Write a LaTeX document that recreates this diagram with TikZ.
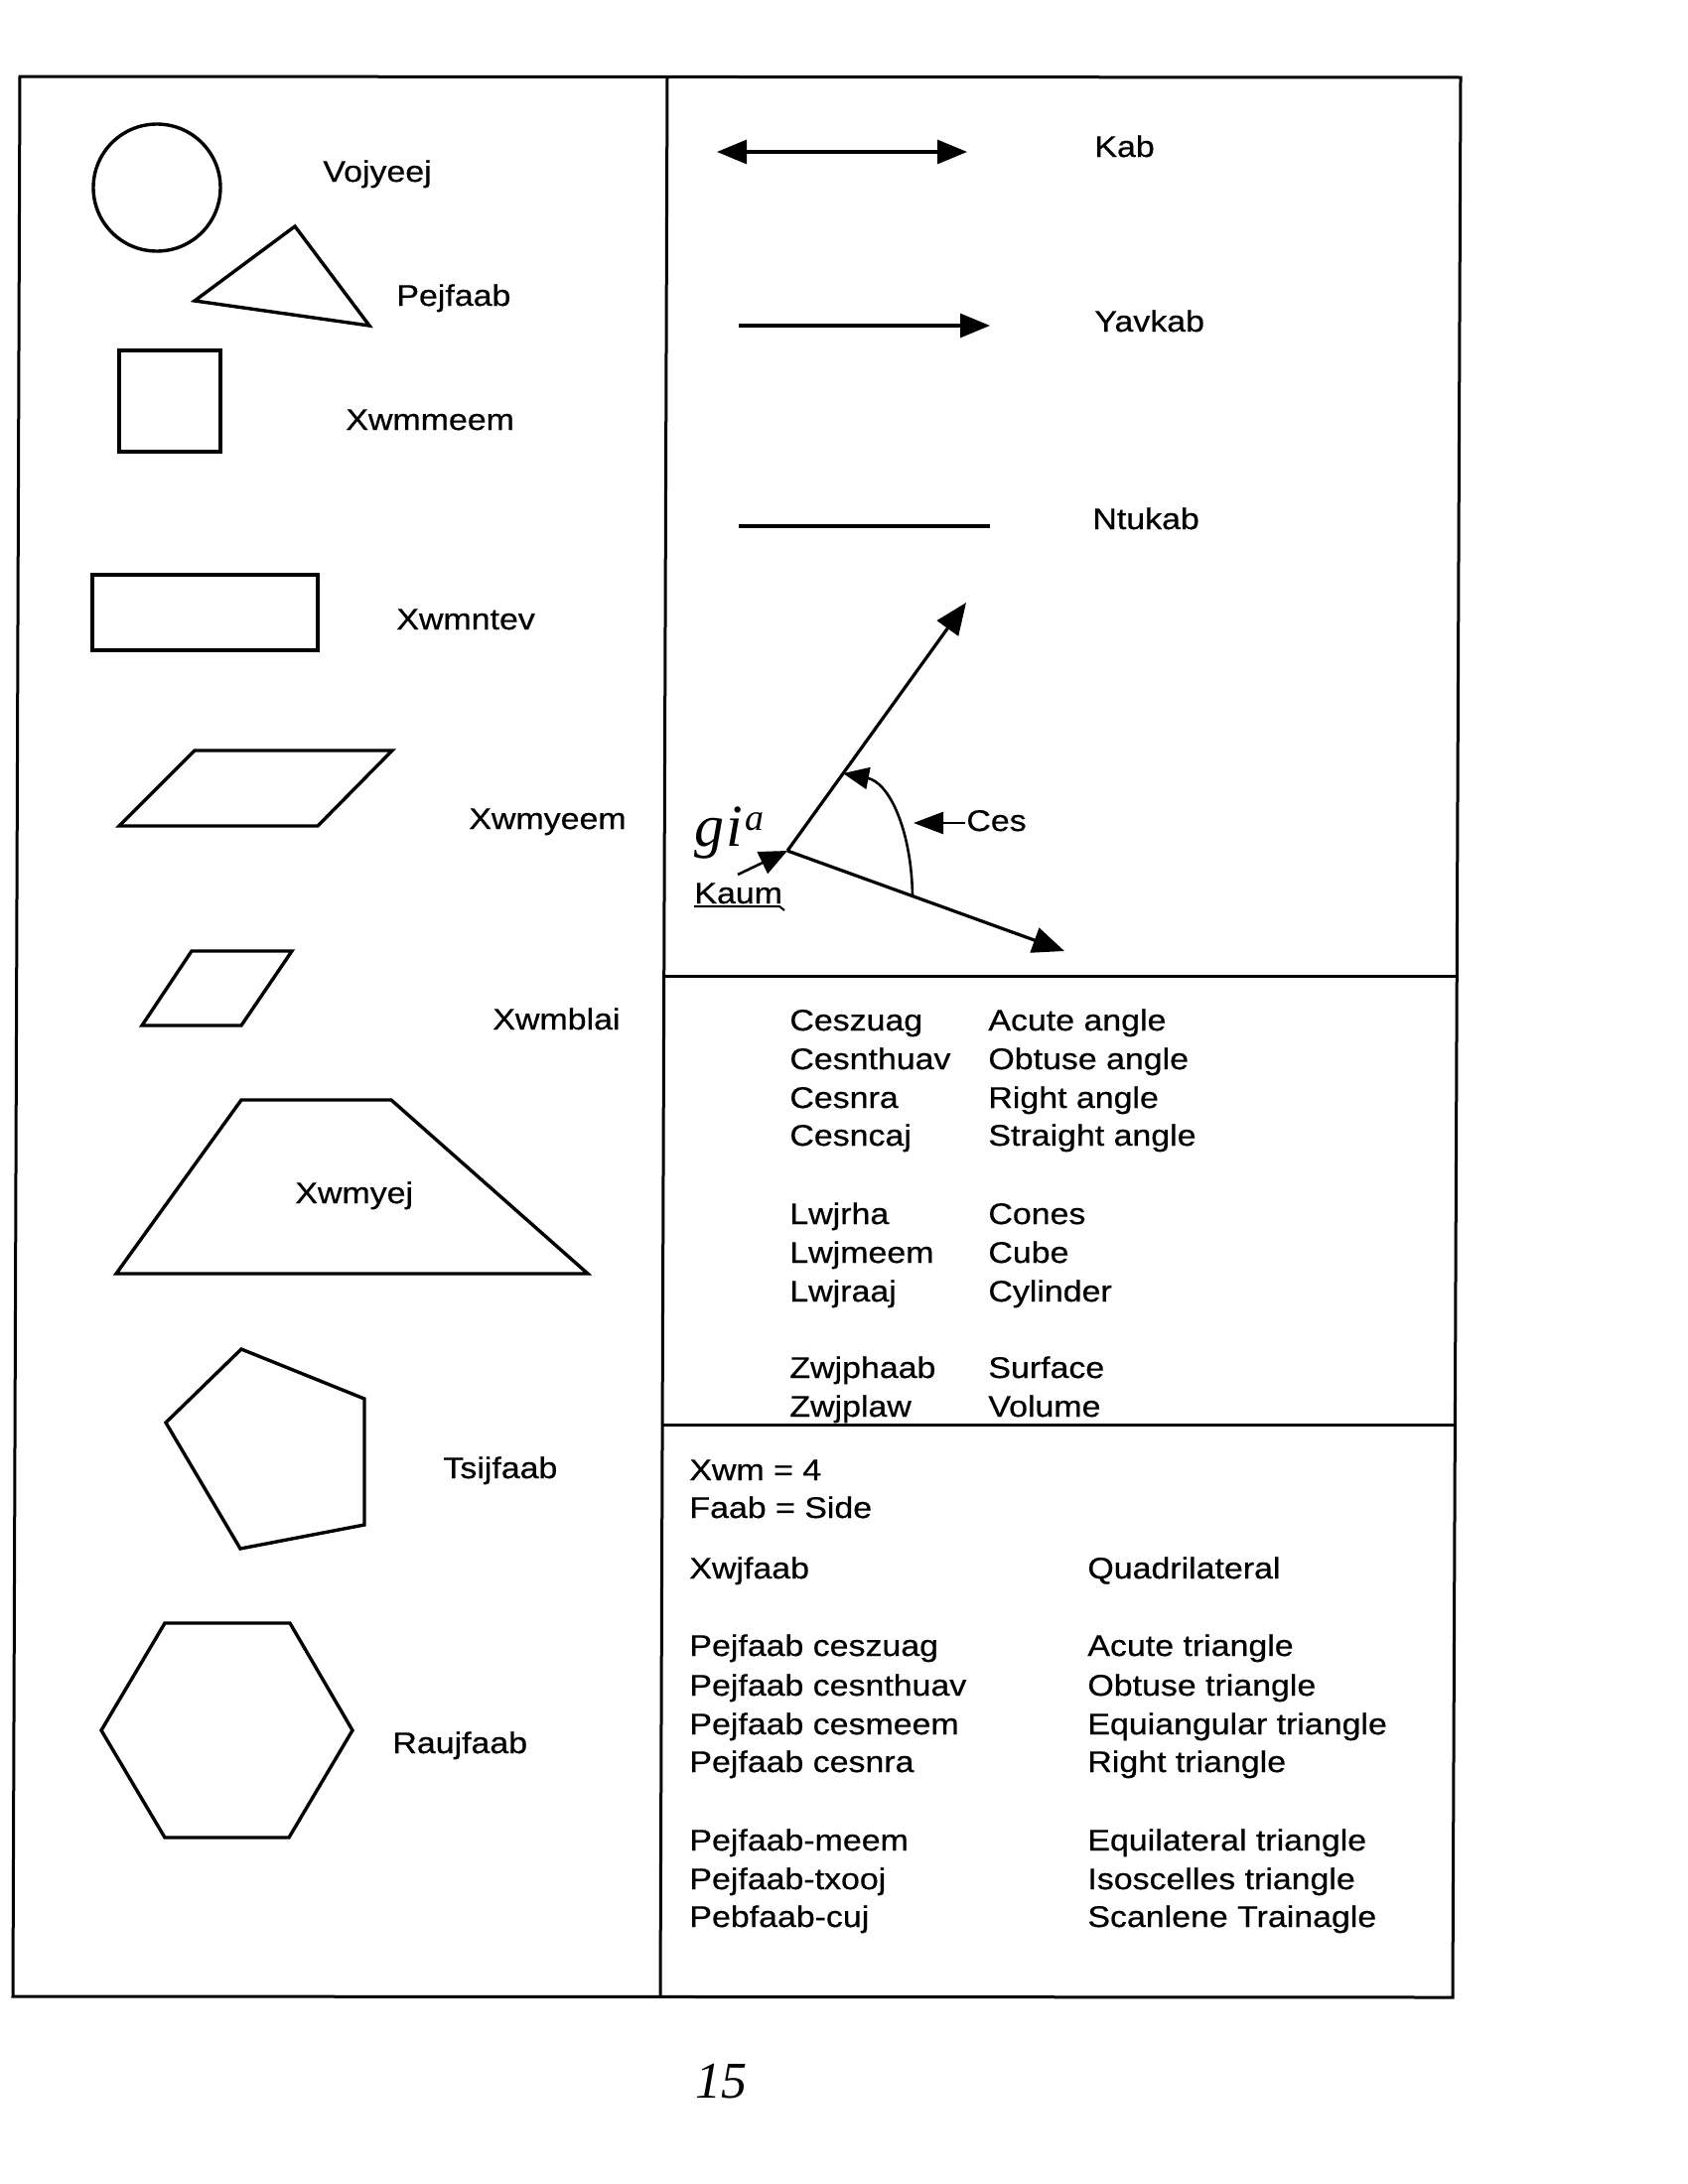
\documentclass[tikz,border=0pt]{standalone}
\usepackage{fontspec}
\setmainfont{Liberation Sans}[FakeStretch=1.13,FakeBold=0.6]
\newfontfamily\handfont{Liberation Serif}
\usetikzlibrary{arrows.meta}
\begin{document}
\begin{tikzpicture}[x=0.5pt,y=-0.5pt,
  lbl/.style={anchor=base west, inner sep=0pt, font=\fontsize{15pt}{18pt}\selectfont},
  hand/.style={anchor=base west, inner sep=0pt, font=\handfont\itshape},
  fig/.style={line width=1.7pt, line join=miter},
  frm/.style={line width=1.5pt},
  ray/.style={line width=1.6pt},
  bigtip/.style={-{Triangle[length=15pt,width=12pt]}},
  twotip/.style={{Triangle[length=15pt,width=12pt]}-{Triangle[length=15pt,width=12pt]}}
]
\fill[white] (0,0) rectangle (1700,2200);
\useasboundingbox (0,0) rectangle (1700,2200);

% ---------- frame ----------
\coordinate (TL) at (20,77);
\coordinate (TR) at (1471,78);
\coordinate (BL) at (13,2011);
\coordinate (BR) at (1463,2012);
\coordinate (DT) at (672,77);
\coordinate (DB) at (665,2011);
\coordinate (H1L) at (668,983);
\coordinate (H1R) at (1467,983);
\coordinate (H2L) at (666,1435);
\coordinate (H2R) at (1465,1435);
\draw[frm] (TL) -- (TR) -- (BR) -- (BL) -- cycle;
\draw[frm] (DT) -- (DB);
\draw[frm] (H1L) -- (H1R);
\draw[frm] (H2L) -- (H2R);

% ---------- left column shapes ----------
\draw[fig] (158,189) circle[radius=32pt];
\draw[fig] (196,303) -- (297,228) -- (372,328) -- cycle;
\draw[fig] (120,353) rectangle (222,455);
\draw[fig] (93,579) rectangle (320,655);
\draw[fig] (196,756) -- (395,756) -- (320,832) -- (120,832) -- cycle;
\draw[fig] (193,958) -- (294,958) -- (243,1033) -- (143,1033) -- cycle;
\draw[fig] (243,1108) -- (394,1108) -- (592,1283) -- (117,1283) -- cycle;
\draw[fig] (243,1359) -- (367,1409) -- (367,1536) -- (242,1560) -- (167,1433) -- cycle;
\draw[fig] (166,1635) -- (292,1635) -- (355,1743) -- (291,1851) -- (166,1851) -- (102,1743) -- cycle;

\node[lbl] (vojyeej) at (325,183) {Vojyeej};
\node[lbl] (pejfaab) at (399,308) {Pejfaab};
\node[lbl] (xwmmeem) at (348,433) {Xwmmeem};
\node[lbl] (xwmntev) at (399,634) {Xwmntev};
\node[lbl] (xwmyeem) at (472,835) {Xwmyeem};
\node[lbl] (xwmblai) at (496,1037) {Xwmblai};
\node[lbl] (xwmyej) at (297,1212) {Xwmyej};
\node[lbl] (tsijfaab) at (446,1489) {Tsijfaab};
\node[lbl] (raujfaab) at (395,1766) {Raujfaab};

% ---------- lines ----------
\coordinate (kabA) at (722,153);
\coordinate (kabB) at (974,153);
\draw[ray, twotip] (kabA) -- (kabB);
\coordinate (yavA) at (744,328);
\coordinate (yavB) at (997,328);
\draw[ray, bigtip] (yavA) -- (yavB);
\coordinate (ntuA) at (744,530);
\coordinate (ntuB) at (997,530);
\draw[ray] (ntuA) -- (ntuB);
\node[lbl] (kab) at (1102,158) {Kab};
\node[lbl] (yavkab) at (1102,334) {Yavkab};
\node[lbl] (ntukab) at (1100,533) {Ntukab};

% ---------- angle ----------
\coordinate (vtx) at (793,857);
\coordinate (rayU) at (973,607);
\coordinate (rayL) at (1072,958);
\coordinate (arcS) at (919,903);
\coordinate (arcE) at (849,779);
\draw[ray, -{Triangle[length=16pt,width=13pt]}] (vtx) -- (rayU);
\draw[ray, -{Triangle[length=16pt,width=13pt]}] (vtx) -- (rayL);
\draw[line width=1.3pt, -{Triangle[length=13pt,width=11pt]}] (arcS) .. controls (918,835) and (895,788) .. (arcE);
\coordinate (cesT) at (972,829);
\coordinate (cesH) at (920,829);
\draw[line width=1.3pt, -{Triangle[length=15pt,width=11pt]}] (cesT) -- (cesH);
\node[lbl] (ces) at (973,837) {Ces};
\coordinate (kaumT) at (743,881);
\draw[line width=1.3pt, -{Triangle[length=14pt,width=12pt]}] (kaumT) -- (vtx);
\node[lbl] (kaum) at (699,910) {Kaum};
\draw[line width=1pt] (kaum.base west) ++(0,3) -- ++(86,0) -- ++(5,4);
\node[hand, font=\handfont\itshape\fontsize{30pt}{30pt}\selectfont] (gia) at (699,852) {g\kern1pt i\kern1pt\raisebox{8pt}{\fontsize{19pt}{19pt}\selectfont a}};

% ---------- middle box ----------
\node[lbl] (m1a) at (795,1038) {Ceszuag};
\node[lbl] (m1b) at (995,1038) {Acute angle};
\node[lbl] (m2a) at (795,1077) {Cesnthuav};
\node[lbl] (m2b) at (995,1077) {Obtuse angle};
\node[lbl] (m3a) at (795,1116) {Cesnra};
\node[lbl] (m3b) at (995,1116) {Right angle};
\node[lbl] (m4a) at (795,1154) {Cesncaj};
\node[lbl] (m4b) at (995,1154) {Straight angle};
\node[lbl] (m5a) at (795,1233) {Lwjrha};
\node[lbl] (m5b) at (995,1233) {Cones};
\node[lbl] (m6a) at (795,1272) {Lwjmeem};
\node[lbl] (m6b) at (995,1272) {Cube};
\node[lbl] (m7a) at (795,1311) {Lwjraaj};
\node[lbl] (m7b) at (995,1311) {Cylinder};
\node[lbl] (m8a) at (795,1388) {Zwjphaab};
\node[lbl] (m8b) at (995,1388) {Surface};
\node[lbl] (m9a) at (795,1427) {Zwjplaw};
\node[lbl] (m9b) at (995,1427) {Volume};

% ---------- bottom box ----------
\node[lbl] (b1) at (694,1491) {Xwm = 4};
\node[lbl] (b2) at (694,1529) {Faab = Side};
\node[lbl] (b3a) at (694,1590) {Xwjfaab};
\node[lbl] (b3b) at (1095,1590) {Quadrilateral};
\node[lbl] (b4a) at (694,1668) {Pejfaab ceszuag};
\node[lbl] (b4b) at (1095,1668) {Acute triangle};
\node[lbl] (b5a) at (694,1708) {Pejfaab cesnthuav};
\node[lbl] (b5b) at (1095,1708) {Obtuse triangle};
\node[lbl] (b6a) at (694,1747) {Pejfaab cesmeem};
\node[lbl] (b6b) at (1095,1747) {Equiangular triangle};
\node[lbl] (b7a) at (694,1785) {Pejfaab cesnra};
\node[lbl] (b7b) at (1095,1785) {Right triangle};
\node[lbl] (b8a) at (694,1864) {Pejfaab-meem};
\node[lbl] (b8b) at (1095,1864) {Equilateral triangle};
\node[lbl] (b9a) at (694,1903) {Pejfaab-txooj};
\node[lbl] (b9b) at (1095,1903) {Isoscelles triangle};
\node[lbl] (b10a) at (694,1941) {Pebfaab-cuj};
\node[lbl] (b10b) at (1095,1941) {Scanlene Trainagle};

% ---------- page number ----------
\node[hand, font=\handfont\itshape\fontsize{26pt}{26pt}\selectfont] (pagenum) at (700,2113) {15};
\end{tikzpicture}
\end{document}
